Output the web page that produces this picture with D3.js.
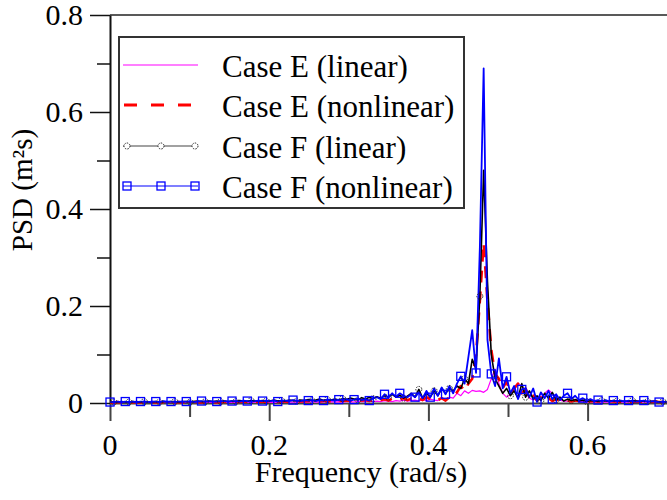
<!DOCTYPE html>
<html>
<head>
<meta charset="utf-8">
<script src="https://cdn.jsdelivr.net/npm/d3@7"></script>
<style>
  body { margin: 0; background: #fff; font-family: 'Liberation Serif'; }
  #chart text { font-family: 'Liberation Serif' !important; }
</style>
</head>
<body>
<svg id="chart" width="667" height="500"></svg>
<script>
// PSD values, one per frequency step df starting at 0 rad/s
var df = 0.00479;

var caseELin = [
  .001,.001,.001,.001,.001,.001,.001,.001,.001,.001,
  .001,.001,.001,.001,.001,.001,.001,.001,.001,.001,
  .001,.001,.001,.001,.001,.001,.001,.001,.001,.001,
  .001,.001,.002,.001,.001,.002,.001,.001,.002,.001,
  .002,.001,.002,.001,.002,.002,.001,.002,.002,.002,
  .002,.002,.002,.003,.002,.002,.003,.002,.003,.002,
  .003,.002,.003,.003,.002,.004,.003,.003,.004,.003,
  .004,.003,.005,.004,.003,.005,.004,.006,.004,.005,
  .006,.004,.007,.005,.008,.006,.005,.010,.006,.012,
  .010,.020,.015,.025,.020,.026,.024,.025,.022,.028,
  .050,.070,.040,.020,.012,.018,.030,.040,.035,.020,
  .010,.006,.010,.012,.020,.027,.020,.010,.006,.004,
  .004,.003,.004,.003,.003,.002,.003,.002,.002,.002,
  .002,.002,.002,.002,.002,.002,.002,.002,.002,.002,
  .002,.002,.002,.002,.002,.002,.002
];

var caseENon = [
  .001,.001,.002,.001,.002,.001,.001,.002,.001,.002,
  .001,.002,.001,.002,.001,.002,.002,.001,.002,.001,
  .002,.001,.002,.002,.001,.002,.002,.002,.001,.002,
  .002,.002,.003,.002,.002,.003,.002,.002,.003,.002,
  .003,.002,.003,.003,.002,.003,.003,.002,.003,.004,
  .003,.003,.004,.003,.004,.003,.004,.004,.003,.005,
  .004,.004,.005,.004,.006,.004,.005,.006,.004,.007,
  .005,.006,.008,.005,.009,.006,.008,.010,.006,.009,
  .007,.010,.006,.012,.008,.010,.006,.010,.005,.012,
  .015,.022,.035,.025,.040,.050,.100,.210,.330,.210,
  .110,.060,.050,.030,.045,.020,.030,.040,.020,.030,
  .010,.015,.005,.012,.006,.010,.004,.008,.004,.006,
  .005,.003,.005,.004,.003,.004,.003,.004,.003,.003,
  .003,.004,.003,.003,.002,.003,.003,.002,.003,.002,
  .003,.002,.002,.003,.002,.002,.002
];

var caseFLin = [
  .002,.002,.002,.003,.002,.002,.003,.002,.002,.003,
  .002,.002,.003,.002,.003,.002,.003,.003,.002,.003,
  .003,.002,.003,.004,.003,.003,.004,.003,.004,.003,
  .004,.003,.004,.003,.005,.004,.003,.005,.004,.004,
  .005,.004,.004,.006,.004,.005,.004,.006,.005,.004,
  .006,.005,.007,.005,.006,.008,.005,.007,.006,.008,
  .006,.009,.007,.010,.008,.006,.011,.008,.012,.009,
  .013,.010,.015,.012,.018,.012,.016,.010,.014,.020,
  .012,.028,.010,.020,.012,.025,.015,.030,.020,.030,
  .025,.035,.030,.050,.040,.090,.070,.220,.480,.250,
  .100,.050,.035,.020,.030,.015,.025,.010,.040,.012,
  .025,.008,.015,.005,.020,.010,.022,.006,.012,.004,
  .008,.005,.007,.004,.006,.003,.005,.004,.003,.005,
  .004,.003,.005,.004,.003,.004,.003,.005,.004,.003,
  .004,.003,.003,.004,.002,.003,.002
];

var caseFNon = [
  .002,.002,.003,.002,.003,.002,.003,.002,.003,.003,
  .002,.003,.003,.002,.004,.003,.003,.002,.003,.003,
  .003,.004,.002,.003,.004,.003,.004,.003,.003,.004,
  .004,.003,.004,.004,.003,.005,.004,.003,.004,.005,
  .004,.005,.004,.005,.003,.005,.005,.004,.006,.005,
  .004,.006,.005,.006,.004,.006,.005,.007,.006,.005,
  .007,.006,.008,.005,.007,.009,.006,.008,.005,.010,
  .012,.008,.018,.011,.020,.013,.020,.015,.012,.018,
  .012,.022,.010,.025,.012,.030,.015,.032,.018,.035,
  .020,.040,.055,.040,.095,.150,.062,.320,.690,.130,
  .060,.035,.092,.030,.054,.020,.035,.008,.028,.030,
  .012,.030,.002,.022,.010,.025,.008,.018,.006,.015,
  .020,.008,.015,.006,.010,.005,.008,.004,.006,.004,
  .006,.003,.005,.004,.005,.003,.005,.004,.003,.004,
  .005,.003,.004,.003,.002,.003,.002
];

var xTicks = [0, 0.2, 0.4, 0.6];
var xMinor = [0.1, 0.3, 0.5];
var yTicks = [0, 0.2, 0.4, 0.6, 0.8];
var yMinor = [0.1, 0.3, 0.5, 0.7];
var legendLabels = ["Case E (linear)", "Case E (nonlinear)", "Case F (linear)", "Case F (nonlinear)"];

var FONT = "'Liberation Serif'";

var svg = d3.select("#chart");
var x = d3.scaleLinear().domain([0, 0.7]).range([110, 667.2]);
var y = d3.scaleLinear().domain([0, 0.8]).range([403, 15]);

// plain text helper, so every label gets the serif face
function label(parent, str, size) {
  return parent.append("text")
    .attr("font-family", "Liberation Serif")
    .style("font-family", FONT)
    .style("font-size", size + "px")
    .attr("fill", "#000")
    .text(str);
}

// top frame line
svg.append("line")
  .attr("x1", x(0)).attr("x2", 667).attr("y1", y(0.8)).attr("y2", y(0.8))
  .attr("stroke", "#222").attr("stroke-width", 1.5);

// x axis: lines from d3, labels added as own texts
var gx = svg.append("g").attr("transform", "translate(0," + y(0) + ")")
  .call(d3.axisBottom(x).tickValues(xTicks).tickSize(18).tickSizeOuter(0).tickFormat(""))
  .attr("color", "#444");
gx.select(".domain").attr("stroke-width", 2);
gx.selectAll(".tick line").attr("stroke-width", 2);
var gxm = svg.append("g").attr("transform", "translate(0," + y(0) + ")")
  .call(d3.axisBottom(x).tickValues(xMinor).tickSize(14).tickFormat(""))
  .attr("color", "#444");
gxm.select(".domain").remove();
gxm.selectAll(".tick line").attr("stroke-width", 2);
xTicks.forEach(function (t) {
  label(svg, String(t), 30).attr("x", x(t)).attr("y", 455).attr("text-anchor", "middle");
});

// y axis
var gy = svg.append("g").attr("transform", "translate(" + x(0) + ",0)")
  .call(d3.axisLeft(y).tickValues(yTicks).tickSize(20).tickSizeOuter(0).tickFormat(""))
  .attr("color", "#111");
gy.select(".domain").attr("stroke-width", 2);
gy.selectAll(".tick line").attr("stroke-width", 1.5);
var gym = svg.append("g").attr("transform", "translate(" + x(0) + ",0)")
  .call(d3.axisLeft(y).tickValues(yMinor).tickSize(13).tickFormat(""))
  .attr("color", "#111");
gym.select(".domain").remove();
gym.selectAll(".tick line").attr("stroke-width", 1.5);
yTicks.forEach(function (t) {
  label(svg, String(t), 30).attr("x", 83).attr("y", y(t) + 10).attr("text-anchor", "end");
});

// axis titles
label(svg, "Frequency (rad/s)", 30).attr("x", 361).attr("y", 482).attr("text-anchor", "middle");
label(svg, "PSD (m²s)", 29).attr("transform", "translate(32,190) rotate(-90)").attr("text-anchor", "middle");

// series
var line = d3.line()
  .x(function (d, i) { return x(i * df); })
  .y(function (d) { return y(d); });

var series = [
  { vals: caseELin, color: "#ff00ff", width: 1.2, dash: null },
  { vals: caseENon, color: "#ff0000", width: 2.6, dash: "12,9" },
  { vals: caseFLin, color: "#000000", width: 1.6, dash: null },
  { vals: caseFNon, color: "#0000ff", width: 1.8, dash: null }
];

series.forEach(function (s) {
  svg.append("path")
    .datum(s.vals)
    .attr("d", line)
    .attr("fill", "none")
    .attr("stroke", s.color)
    .attr("stroke-width", s.width)
    .attr("stroke-dasharray", s.dash)
    .attr("stroke-linejoin", "round");
});

// symbols: circles for case F linear, squares for case F nonlinear
var circlePts = caseFLin.map(function (v, i) { return { i: i, v: v }; })
  .filter(function (p) { return p.i % 4 === 1; });
svg.append("g").selectAll("circle")
  .data(circlePts).enter().append("circle")
  .attr("cx", function (p) { return x(p.i * df); })
  .attr("cy", function (p) { return y(p.v); })
  .attr("r", 3)
  .attr("fill", "none").attr("stroke", "#222").attr("stroke-width", 1)
  .attr("stroke-dasharray", "1.5,1.2");

var squarePts = caseFNon.map(function (v, i) { return { i: i, v: v }; })
  .filter(function (p) { return p.i % 4 === 0; });
svg.append("g").selectAll("rect")
  .data(squarePts).enter().append("rect")
  .attr("x", function (p) { return x(p.i * df) - 4; })
  .attr("y", function (p) { return y(p.v) - 4; })
  .attr("width", 8).attr("height", 8)
  .attr("fill", "none").attr("stroke", "#0000ff").attr("stroke-width", 1.3);

// legend
var lg = svg.append("g");
lg.append("rect")
  .attr("x", 119).attr("y", 37).attr("width", 345).attr("height", 171)
  .attr("fill", "#fff").attr("stroke", "#333").attr("stroke-width", 2);

var rowY = [77, 117, 158, 198];
var sx = [127, 161, 195];
legendLabels.forEach(function (lab, k) {
  var ly = rowY[k] - 12;
  var s = series[k];
  lg.append("line")
    .attr("x1", k === 1 ? 124 : 123).attr("x2", k === 1 ? 192 : 198)
    .attr("y1", ly).attr("y2", ly)
    .attr("stroke", k === 2 ? "#444" : s.color)
    .attr("stroke-width", k === 1 ? 2.8 : 1.2)
    .attr("stroke-dasharray", k === 1 ? "13,14" : null);
  if (k === 2) {
    sx.forEach(function (cx) {
      lg.append("circle").attr("cx", cx).attr("cy", ly).attr("r", 3)
        .attr("fill", "#fff").attr("stroke", "#222").attr("stroke-width", 1)
        .attr("stroke-dasharray", "1.5,1.2");
    });
  }
  if (k === 3) {
    sx.forEach(function (cx) {
      lg.append("rect").attr("x", cx - 4).attr("y", ly - 4).attr("width", 8).attr("height", 8)
        .attr("fill", "none").attr("stroke", "#0000ff").attr("stroke-width", 1.3);
    });
  }
  label(lg, lab, 31).attr("x", 222).attr("y", rowY[k]);
});
</script>
</body>
</html>
